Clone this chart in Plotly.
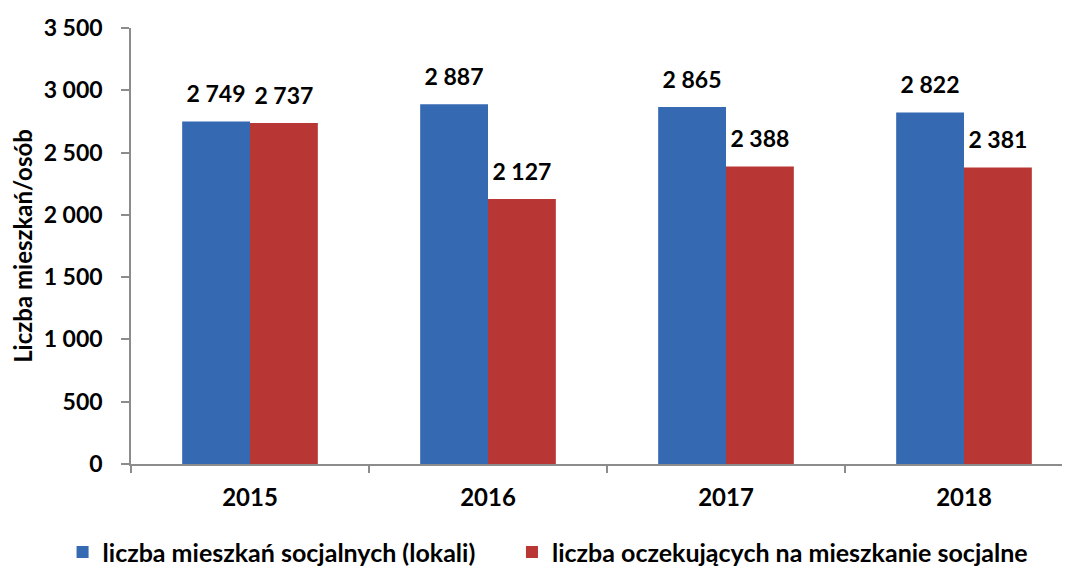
import plotly.graph_objects as go

years = ["2015", "2016", "2017", "2018"]
lokale = [2749, 2887, 2865, 2822]
oczekujacy = [2737, 2127, 2388, 2381]
series_names = ["liczba mieszkań socjalnych (lokali)", "liczba oczekujących na mieszkanie socjalne"]
y_title = "Liczba mieszkań/osób"
y_ticks = [0, 500, 1000, 1500, 2000, 2500, 3000, 3500]

FONT = "Lato"
BOLD = dict(family=FONT, color="black", weight="bold")

fig = go.Figure()
fig.add_trace(go.Bar(
    x=years, y=lokale, name=series_names[0],
    marker=dict(color="#3569B2", line=dict(width=0)),
    offsetgroup="a", legend="legend",
))
fig.add_trace(go.Bar(
    x=years, y=oczekujacy, name=series_names[1],
    marker=dict(color="#B83633", line=dict(width=0)),
    offsetgroup="b", legend="legend2",
))

# value labels above bars (invisible markers + text, grouped like the bars)
for series, grp in ((lokale, "a"), (oczekujacy, "b")):
    fig.add_trace(go.Scatter(
        x=years, y=series, mode="markers+text", offsetgroup=grp,
        text=[f"{v:,}".replace(",", " ") for v in series],
        textposition="top center",
        marker=dict(size=20, color="rgba(0,0,0,0)", line=dict(width=0)),
        textfont=dict(**BOLD, size=23),
        showlegend=False, hoverinfo="skip", cliponaxis=False,
    ))

legend_common = dict(
    orientation="h", xref="container", xanchor="left",
    yref="container", y=0.04, yanchor="middle",
    font=dict(**BOLD, size=25), itemwidth=30,
)

fig.update_layout(
    width=1070, height=567,
    margin=dict(l=123, r=0, t=20, b=111),
    paper_bgcolor="white", plot_bgcolor="white",
    separators=", ",
    font=dict(family=FONT, size=20, color="black"),
    barmode="group", bargap=0.43, bargroupgap=0,
    scattermode="group", scattergap=0.43,
    showlegend=True,
    legend=dict(x=0.051, **legend_common),
    legend2=dict(x=0.471, **legend_common),
)
fig.update_xaxes(
    type="category", range=[-0.5, 3.479],
    showline=True, linecolor="#8c8c8c", linewidth=1.5,
    ticks="outside", tickson="boundaries", ticklen=7, tickcolor="#8c8c8c", tickwidth=1.5,
    tickfont=dict(**BOLD, size=24),
    ticklabelstandoff=11,
    showgrid=False, zeroline=False,
)
fig.update_yaxes(
    range=[0, 3500], tickvals=y_ticks, tickformat=",d",
    showline=True, linecolor="#8c8c8c", linewidth=1.5,
    ticks="outside", ticklen=8, tickcolor="#8c8c8c", tickwidth=1.5,
    tickfont=dict(**BOLD, size=23),
    ticklabelstandoff=14,
    showgrid=False, zeroline=False,
    title=dict(text=y_title, font=dict(**BOLD, size=24), standoff=14),
)

fig.write_html("out.html")
